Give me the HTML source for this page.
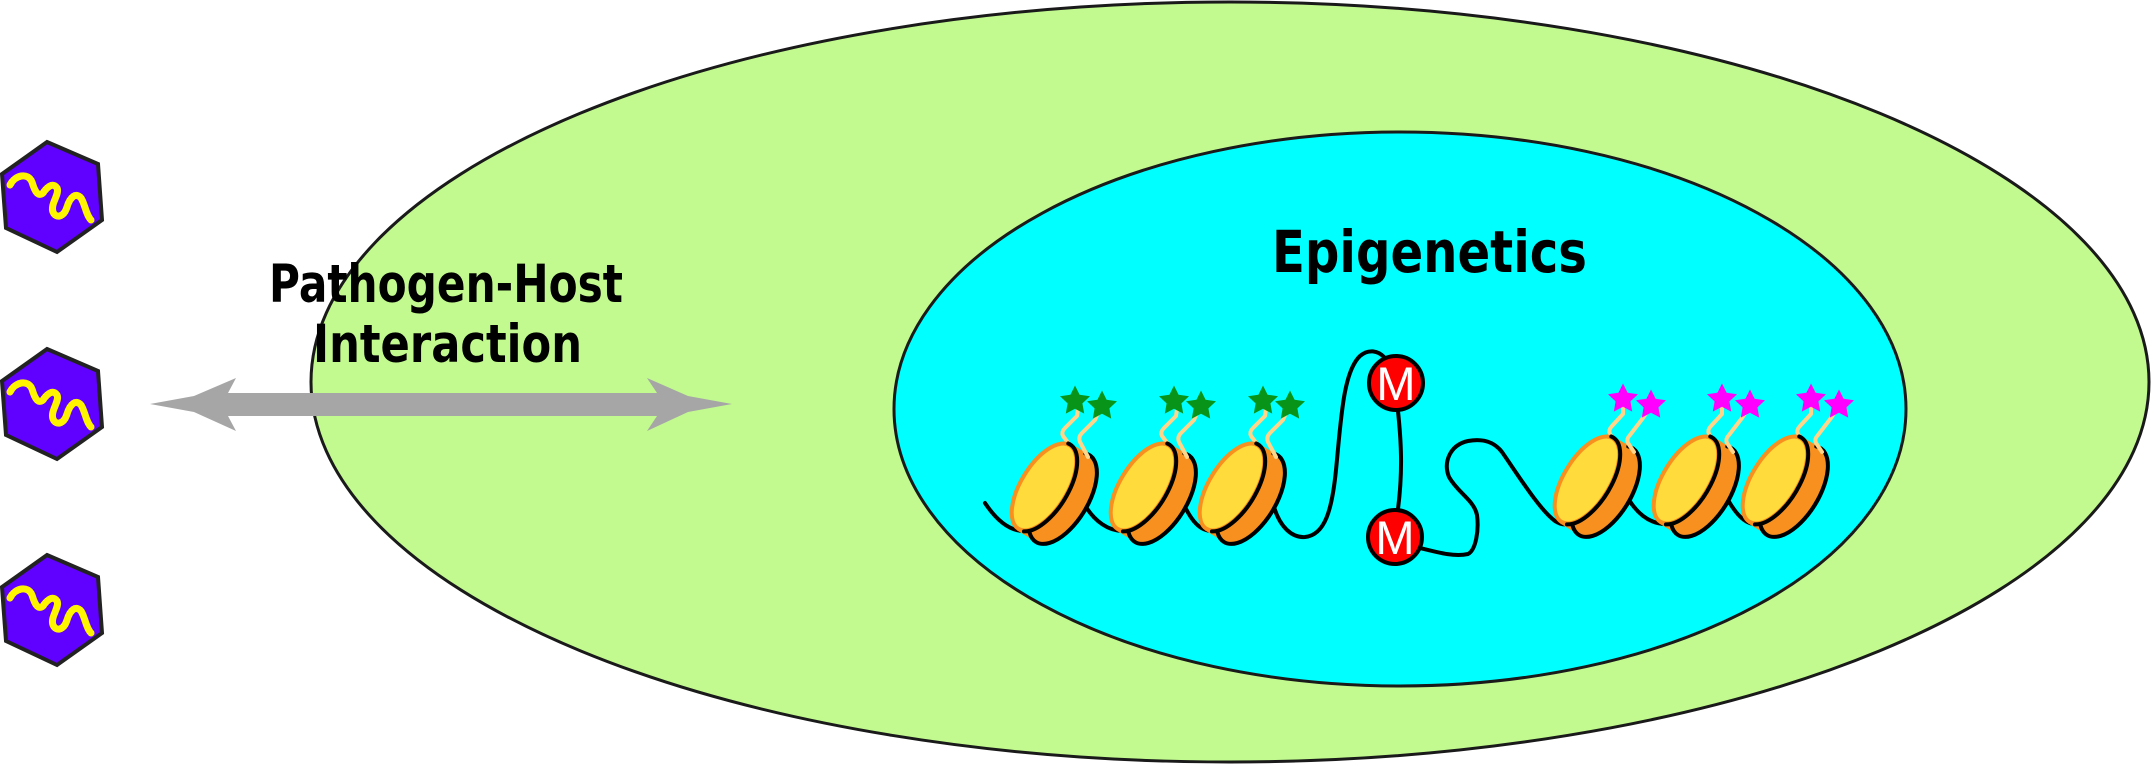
<!DOCTYPE html>
<html><head><meta charset="utf-8">
<style>html,body{margin:0;padding:0;background:#ffffff;}svg{display:block}</style>
</head>
<body>
<svg width="2153" height="765" viewBox="0 0 2153 765" xmlns="http://www.w3.org/2000/svg">
<!-- cell -->
<ellipse cx="1230" cy="382" rx="919" ry="380" fill="#C2FA8F" stroke="#1a1a1a" stroke-width="3"/>
<!-- nucleus -->
<ellipse cx="1400" cy="409" rx="506" ry="277" fill="#00FFFF" stroke="#1a1a1a" stroke-width="3"/>

<!-- pathogens -->
<g transform="translate(0,142)">
  <polygon points="47,0 98,22 102,78 57,110 6,86 2,32" fill="#6000FF" stroke="#222" stroke-width="4" stroke-linejoin="miter"/>
  <path d="M10,43 C15,33 28,30 32,40 C35,50 38,55 43,51 C47,45 53,40 57,46 C60,52 50,62 53,70 C56,77 64,75 67,65 C70,55 76,50 81,56 C85,62 86,73 91,78" fill="none" stroke="#FFF500" stroke-width="7" stroke-linecap="round"/>
</g>
<g transform="translate(0,349)">
  <polygon points="47,0 98,22 102,78 57,110 6,86 2,32" fill="#6000FF" stroke="#222" stroke-width="4"/>
  <path d="M10,43 C15,33 28,30 32,40 C35,50 38,55 43,51 C47,45 53,40 57,46 C60,52 50,62 53,70 C56,77 64,75 67,65 C70,55 76,50 81,56 C85,62 86,73 91,78" fill="none" stroke="#FFF500" stroke-width="7" stroke-linecap="round"/>
</g>
<g transform="translate(0,555)">
  <polygon points="47,0 98,22 102,78 57,110 6,86 2,32" fill="#6000FF" stroke="#222" stroke-width="4"/>
  <path d="M10,43 C15,33 28,30 32,40 C35,50 38,55 43,51 C47,45 53,40 57,46 C60,52 50,62 53,70 C56,77 64,75 67,65 C70,55 76,50 81,56 C85,62 86,73 91,78" fill="none" stroke="#FFF500" stroke-width="7" stroke-linecap="round"/>
</g>

<!-- double arrow -->
<polygon points="150,404 194,396 236,378 228,393 657,393 647,378 688,396 732,404 688,412 647,431 657,416 228,416 236,431 194,412" fill="#A6A6A6"/>

<!-- labels -->
<text x="269" y="302" font-family="'Comic Sans MS','DejaVu Sans',sans-serif" font-weight="bold" font-size="53" textLength="354" lengthAdjust="spacingAndGlyphs" fill="#000">Pathogen-Host</text>
<text x="313" y="362" font-family="'Comic Sans MS','DejaVu Sans',sans-serif" font-weight="bold" font-size="53" textLength="269" lengthAdjust="spacingAndGlyphs" fill="#000">Interaction</text>
<text x="1272" y="272" font-family="'Comic Sans MS','DejaVu Sans',sans-serif" font-weight="bold" font-size="58" textLength="315" lengthAdjust="spacingAndGlyphs" fill="#000">Epigenetics</text>

<!-- DNA linkers -->
<g fill="none" stroke="#000" stroke-width="4" stroke-linecap="round">
  <path d="M985,503 C995,518 1008,531 1024,531"/>
  <path d="M1086,507 C1095,521 1108,531 1123,531"/>
  <path d="M1185,507 C1192,521 1200,531 1212,531"/>
  <path d="M1274,507 C1280,527 1292,538 1305,537 C1325,535 1332,510 1336,470 C1341,420 1343,372 1360,356 C1368,349 1378,350 1385,358"/>
  <path d="M1398,411 C1401,440 1403,470 1398,509"/>
  <path d="M1420,548 C1440,553 1455,557 1468,554 C1476,550 1479,530 1477,515 C1474,500 1458,493 1449,477 C1443,462 1450,445 1468,441 C1485,438 1495,443 1502,452 C1520,478 1540,510 1555,521 C1560,524 1563,525 1567,524"/>
  <path d="M1629,500 C1638,514 1650,524 1666,524"/>
  <path d="M1728,500 C1736,514 1745,524 1755,524"/>
</g>

<!-- methylation marks -->
<circle cx="1396" cy="383" r="27" fill="#FF0000" stroke="#000" stroke-width="4"/>
<text x="1396" y="400" text-anchor="middle" font-family="'Liberation Sans',sans-serif" font-size="47" fill="#fff">M</text>
<circle cx="1395" cy="537" r="27" fill="#FF0000" stroke="#000" stroke-width="4"/>
<text x="1395" y="554" text-anchor="middle" font-family="'Liberation Sans',sans-serif" font-size="47" fill="#fff">M</text>

<!-- Nucleosomes left group (green) -->
<g transform="translate(1044,487)">
  <g transform="rotate(31.6)">
    <rect x="0" y="-51" width="22" height="102" fill="#F7901E"/>
    <ellipse cx="22" cy="0" rx="25" ry="51" fill="#F7901E"/>
    <path d="M17.6,-50.2 A25,51 0 1 1 11.4,46.2" fill="none" stroke="#000" stroke-width="4" stroke-linecap="round"/>
  </g>
  <path d="M28,-39 L19,-51 Q17,-55 21,-59 L33,-71 L34,-78" fill="none" stroke="#FFD58A" stroke-width="4" stroke-linecap="round" stroke-linejoin="round"/>
  <path d="M44,-30 L36,-45 Q34,-50 38,-54 L51,-67 L55,-76" fill="none" stroke="#FFD58A" stroke-width="4" stroke-linecap="round" stroke-linejoin="round"/>
  <g transform="rotate(31.6)">
    <ellipse cx="0" cy="0" rx="23" ry="49" fill="#FFDB3B" stroke="#F7901E" stroke-width="4"/>
    <path d="M-2.1,-49.8 A24,50 0 0 1 6.2,48.3" fill="none" stroke="#000" stroke-width="4" stroke-linecap="round"/>
  </g>
  <polygon transform="translate(31,-86)" points="0,-15.5 4.6,-6.3 15,-4.8 7.4,2.4 9.2,12.6 0,7.8 -9.2,12.6 -7.4,2.4 -15,-4.8 -4.6,-6.3" fill="#079418"/>
  <polygon transform="translate(58,-81)" points="0,-15.5 4.6,-6.3 15,-4.8 7.4,2.4 9.2,12.6 0,7.8 -9.2,12.6 -7.4,2.4 -15,-4.8 -4.6,-6.3" fill="#079418"/>
</g>
<g transform="translate(1143,487)">
  <g transform="rotate(31.6)">
    <rect x="0" y="-51" width="22" height="102" fill="#F7901E"/>
    <ellipse cx="22" cy="0" rx="25" ry="51" fill="#F7901E"/>
    <path d="M17.6,-50.2 A25,51 0 1 1 11.4,46.2" fill="none" stroke="#000" stroke-width="4" stroke-linecap="round"/>
  </g>
  <path d="M28,-39 L19,-51 Q17,-55 21,-59 L33,-71 L34,-78" fill="none" stroke="#FFD58A" stroke-width="4" stroke-linecap="round" stroke-linejoin="round"/>
  <path d="M44,-30 L36,-45 Q34,-50 38,-54 L51,-67 L55,-76" fill="none" stroke="#FFD58A" stroke-width="4" stroke-linecap="round" stroke-linejoin="round"/>
  <g transform="rotate(31.6)">
    <ellipse cx="0" cy="0" rx="23" ry="49" fill="#FFDB3B" stroke="#F7901E" stroke-width="4"/>
    <path d="M-2.1,-49.8 A24,50 0 0 1 6.2,48.3" fill="none" stroke="#000" stroke-width="4" stroke-linecap="round"/>
  </g>
  <polygon transform="translate(31,-86)" points="0,-15.5 4.6,-6.3 15,-4.8 7.4,2.4 9.2,12.6 0,7.8 -9.2,12.6 -7.4,2.4 -15,-4.8 -4.6,-6.3" fill="#079418"/>
  <polygon transform="translate(58,-81)" points="0,-15.5 4.6,-6.3 15,-4.8 7.4,2.4 9.2,12.6 0,7.8 -9.2,12.6 -7.4,2.4 -15,-4.8 -4.6,-6.3" fill="#079418"/>
</g>
<g transform="translate(1232,487)">
  <g transform="rotate(31.6)">
    <rect x="0" y="-51" width="22" height="102" fill="#F7901E"/>
    <ellipse cx="22" cy="0" rx="25" ry="51" fill="#F7901E"/>
    <path d="M17.6,-50.2 A25,51 0 1 1 11.4,46.2" fill="none" stroke="#000" stroke-width="4" stroke-linecap="round"/>
  </g>
  <path d="M28,-39 L19,-51 Q17,-55 21,-59 L33,-71 L34,-78" fill="none" stroke="#FFD58A" stroke-width="4" stroke-linecap="round" stroke-linejoin="round"/>
  <path d="M44,-30 L36,-45 Q34,-50 38,-54 L51,-67 L55,-76" fill="none" stroke="#FFD58A" stroke-width="4" stroke-linecap="round" stroke-linejoin="round"/>
  <g transform="rotate(31.6)">
    <ellipse cx="0" cy="0" rx="23" ry="49" fill="#FFDB3B" stroke="#F7901E" stroke-width="4"/>
    <path d="M-2.1,-49.8 A24,50 0 0 1 6.2,48.3" fill="none" stroke="#000" stroke-width="4" stroke-linecap="round"/>
  </g>
  <polygon transform="translate(31,-86)" points="0,-15.5 4.6,-6.3 15,-4.8 7.4,2.4 9.2,12.6 0,7.8 -9.2,12.6 -7.4,2.4 -15,-4.8 -4.6,-6.3" fill="#079418"/>
  <polygon transform="translate(58,-81)" points="0,-15.5 4.6,-6.3 15,-4.8 7.4,2.4 9.2,12.6 0,7.8 -9.2,12.6 -7.4,2.4 -15,-4.8 -4.6,-6.3" fill="#079418"/>
</g>

<!-- Nucleosomes right group (magenta) -->
<g transform="translate(1587,480)">
  <g transform="rotate(31.6)">
    <rect x="0" y="-51" width="22" height="102" fill="#F7901E"/>
    <ellipse cx="22" cy="0" rx="25" ry="51" fill="#F7901E"/>
    <path d="M17.6,-50.2 A25,51 0 1 1 11.4,46.2" fill="none" stroke="#000" stroke-width="4" stroke-linecap="round"/>
  </g>
  <path d="M29,-37 L23,-46 Q21,-50 25,-54 L36,-66 L36,-72" fill="none" stroke="#FFD58A" stroke-width="4" stroke-linecap="round" stroke-linejoin="round"/>
  <path d="M47,-28 L41,-37 Q39,-41 43,-45 L56,-62 L60,-68" fill="none" stroke="#FFD58A" stroke-width="4" stroke-linecap="round" stroke-linejoin="round"/>
  <g transform="rotate(31.6)">
    <ellipse cx="0" cy="0" rx="23" ry="49" fill="#FFDB3B" stroke="#F7901E" stroke-width="4"/>
    <path d="M-2.1,-49.8 A24,50 0 0 1 6.2,48.3" fill="none" stroke="#000" stroke-width="4" stroke-linecap="round"/>
  </g>
  <polygon transform="translate(36,-81)" points="0,-15.5 4.6,-6.3 15,-4.8 7.4,2.4 9.2,12.6 0,7.8 -9.2,12.6 -7.4,2.4 -15,-4.8 -4.6,-6.3" fill="#FF00FF"/>
  <polygon transform="translate(64,-75)" points="0,-15.5 4.6,-6.3 15,-4.8 7.4,2.4 9.2,12.6 0,7.8 -9.2,12.6 -7.4,2.4 -15,-4.8 -4.6,-6.3" fill="#FF00FF"/>
</g>
<g transform="translate(1686,480)">
  <g transform="rotate(31.6)">
    <rect x="0" y="-51" width="22" height="102" fill="#F7901E"/>
    <ellipse cx="22" cy="0" rx="25" ry="51" fill="#F7901E"/>
    <path d="M17.6,-50.2 A25,51 0 1 1 11.4,46.2" fill="none" stroke="#000" stroke-width="4" stroke-linecap="round"/>
  </g>
  <path d="M29,-37 L23,-46 Q21,-50 25,-54 L36,-66 L36,-72" fill="none" stroke="#FFD58A" stroke-width="4" stroke-linecap="round" stroke-linejoin="round"/>
  <path d="M47,-28 L41,-37 Q39,-41 43,-45 L56,-62 L60,-68" fill="none" stroke="#FFD58A" stroke-width="4" stroke-linecap="round" stroke-linejoin="round"/>
  <g transform="rotate(31.6)">
    <ellipse cx="0" cy="0" rx="23" ry="49" fill="#FFDB3B" stroke="#F7901E" stroke-width="4"/>
    <path d="M-2.1,-49.8 A24,50 0 0 1 6.2,48.3" fill="none" stroke="#000" stroke-width="4" stroke-linecap="round"/>
  </g>
  <polygon transform="translate(36,-81)" points="0,-15.5 4.6,-6.3 15,-4.8 7.4,2.4 9.2,12.6 0,7.8 -9.2,12.6 -7.4,2.4 -15,-4.8 -4.6,-6.3" fill="#FF00FF"/>
  <polygon transform="translate(64,-75)" points="0,-15.5 4.6,-6.3 15,-4.8 7.4,2.4 9.2,12.6 0,7.8 -9.2,12.6 -7.4,2.4 -15,-4.8 -4.6,-6.3" fill="#FF00FF"/>
</g>
<g transform="translate(1775,480)">
  <g transform="rotate(31.6)">
    <rect x="0" y="-51" width="22" height="102" fill="#F7901E"/>
    <ellipse cx="22" cy="0" rx="25" ry="51" fill="#F7901E"/>
    <path d="M17.6,-50.2 A25,51 0 1 1 11.4,46.2" fill="none" stroke="#000" stroke-width="4" stroke-linecap="round"/>
  </g>
  <path d="M29,-37 L23,-46 Q21,-50 25,-54 L36,-66 L36,-72" fill="none" stroke="#FFD58A" stroke-width="4" stroke-linecap="round" stroke-linejoin="round"/>
  <path d="M47,-28 L41,-37 Q39,-41 43,-45 L56,-62 L60,-68" fill="none" stroke="#FFD58A" stroke-width="4" stroke-linecap="round" stroke-linejoin="round"/>
  <g transform="rotate(31.6)">
    <ellipse cx="0" cy="0" rx="23" ry="49" fill="#FFDB3B" stroke="#F7901E" stroke-width="4"/>
    <path d="M-2.1,-49.8 A24,50 0 0 1 6.2,48.3" fill="none" stroke="#000" stroke-width="4" stroke-linecap="round"/>
  </g>
  <polygon transform="translate(36,-81)" points="0,-15.5 4.6,-6.3 15,-4.8 7.4,2.4 9.2,12.6 0,7.8 -9.2,12.6 -7.4,2.4 -15,-4.8 -4.6,-6.3" fill="#FF00FF"/>
  <polygon transform="translate(64,-75)" points="0,-15.5 4.6,-6.3 15,-4.8 7.4,2.4 9.2,12.6 0,7.8 -9.2,12.6 -7.4,2.4 -15,-4.8 -4.6,-6.3" fill="#FF00FF"/>
</g>
</svg>
</body></html>
